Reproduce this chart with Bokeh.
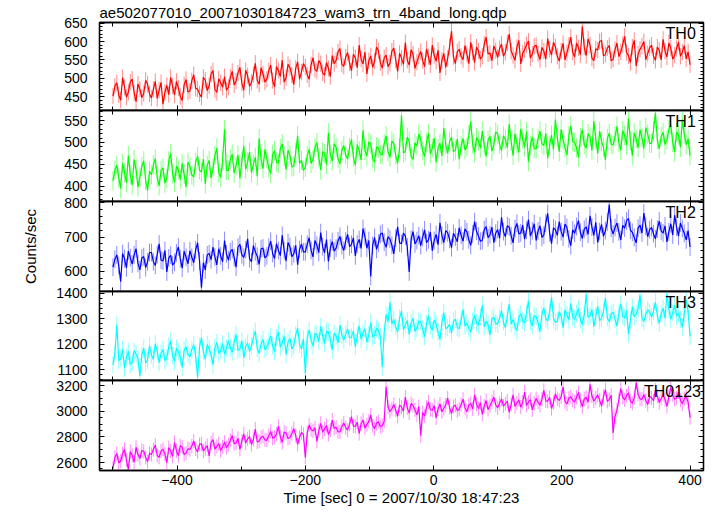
from bokeh.plotting import figure
from bokeh.layouts import column
from bokeh.models import Range1d, LinearAxis, SingleIntervalTicker, FixedTicker, Label
from bokeh.embed import file_html
from bokeh.resources import INLINE

TITLE = "ae502077010_20071030184723_wam3_trn_4band_long.qdp"
X_LABEL = "Time [sec] 0 = 2007/10/30 18:47:23"
Y_LABEL = "Counts/sec"

T_START = -500
T_STEP = 3
X_TICKS = [-400, -200, 0, 200, 400]
X_TICK_LABELS = ["\u2212400", "\u2212200", "0", "200", "400"]
X_MINOR = [-500, -300, -100, 100, 300]

BANDS = ["TH0", "TH1", "TH2", "TH3", "TH0123"]
COLORS = ["#ff0000", "#00ff00", "#0000ff", "#00ffff", "#ff00ff"]
Y_LIMITS = [(413, 651.5), (365, 573), (541, 804), (1057, 1406), (2538, 3239)]
Y_TICK_STEP = [50, 50, 100, 100, 200]
Y_MINOR_N = [5, 5, 5, 5, 4]
# typical error-bar half length per band (counts/sec), read from the halo
ERRORS = [22, 22, 26, 34, 55]

TH0 = [
    452, 479, 488, 455, 441, 502, 476, 449, 463, 490, 498, 461, 437, 485, 471, 448, 459, 495, 484, 458,
    447, 470, 492, 446, 468, 489, 430, 462, 481, 456, 503, 479, 455, 492, 474, 451, 440, 483, 497, 463,
    466, 494, 510, 473, 471, 458, 449, 503, 495, 467, 480, 512, 521, 470, 462, 499, 488, 476, 505, 468,
    476, 503, 519, 482, 493, 515, 530, 487, 468, 522, 507, 478, 489, 510, 541, 495, 484, 529, 512, 490,
    498, 521, 536, 494, 477, 532, 521, 505, 550, 490, 502, 538, 529, 509, 483, 527, 545, 498, 517, 540,
    531, 510, 498, 537, 556, 524, 519, 548, 540, 515, 509, 543, 527, 505, 562, 540, 549, 572, 581, 538,
    533, 558, 570, 541, 521, 565, 556, 529, 590, 552, 539, 571, 512, 548, 561, 530, 547, 585, 575, 542,
    528, 556, 563, 532, 541, 574, 582, 550, 519, 568, 555, 538, 597, 549, 536, 578, 566, 527, 544, 561,
    573, 548, 532, 580, 559, 537, 590, 562, 547, 576, 515, 549, 568, 530, 554, 586, 628, 559, 540, 572,
    579, 560, 551, 589, 566, 540, 598, 571, 543, 585, 574, 552, 560, 593, 612, 566, 569, 548, 588, 575,
    557, 581, 593, 560, 571, 596, 620, 574, 562, 549, 584, 603, 539, 568, 578, 591, 601, 555, 566, 587,
    590, 566, 551, 584, 574, 552, 608, 579, 563, 598, 586, 560, 547, 574, 595, 550, 569, 590, 612, 571,
    558, 596, 583, 564, 641, 585, 562, 607, 591, 555, 548, 580, 577, 600, 603, 561, 565, 582, 589, 548,
    552, 578, 596, 559, 572, 592, 614, 570, 561, 543, 585, 603, 534, 566, 579, 588, 600, 551, 567, 583,
    590, 561, 549, 585, 576, 550, 606, 574, 558, 596, 582, 552, 563, 581, 598, 560, 571, 589, 553, 572, 537]

TH1 = [
    412, 437, 448, 419, 395, 452, 431, 408, 470, 426, 403, 461, 439, 398, 421, 445, 458, 413, 390, 434,
    426, 449, 463, 420, 401, 436, 442, 407, 418, 458, 475, 429, 409, 446, 437, 415, 452, 427, 398, 455,
    445, 426, 421, 455, 468, 437, 432, 462, 405, 448, 459, 419, 441, 470, 487, 431, 420, 458, 530, 436,
    436, 462, 473, 430, 447, 471, 418, 457, 492, 439, 455, 478, 431, 450, 466, 423, 509, 461, 440, 484,
    462, 441, 429, 473, 481, 455, 452, 486, 497, 468, 438, 482, 470, 444, 446, 477, 515, 452, 459, 436,
    443, 470, 484, 452, 461, 488, 500, 466, 437, 479, 475, 449, 522, 473, 458, 497, 489, 463, 451, 482,
    493, 471, 462, 489, 507, 466, 448, 495, 481, 460, 528, 482, 469, 501, 497, 464, 455, 490, 486, 473,
    472, 497, 515, 478, 466, 503, 498, 470, 452, 488, 562, 476, 480, 512, 503, 468, 461, 499, 492, 519,
    506, 481, 468, 499, 521, 474, 487, 510, 455, 486, 498, 469, 533, 495, 475, 502, 512, 479, 482, 508,
    461, 492, 509, 483, 490, 518, 548, 496, 477, 511, 503, 487, 526, 493, 468, 505, 514, 480, 495, 524,
    519, 496, 481, 515, 507, 488, 542, 503, 470, 520, 498, 477, 531, 508, 489, 525, 456, 494, 512, 486,
    485, 509, 526, 497, 493, 521, 464, 492, 517, 484, 552, 512, 479, 530, 506, 488, 471, 515, 538, 502,
    500, 488, 466, 511, 529, 495, 487, 520, 513, 482, 549, 507, 475, 526, 503, 489, 460, 509, 521, 496,
    494, 513, 537, 499, 482, 527, 516, 493, 555, 504, 470, 522, 508, 488, 529, 511, 486, 534, 519, 498,
    498, 527, 568, 506, 485, 514, 523, 495, 506, 530, 541, 500, 478, 524, 517, 489, 552, 519, 495, 508, 470]

TH2 = [
    612, 635, 648, 617, 570, 652, 637, 610, 659, 640, 621, 648, 666, 623, 604, 639, 643, 611, 628, 655,
    655, 628, 617, 649, 680, 633, 630, 661, 598, 639, 647, 618, 626, 654, 671, 637, 609, 659, 641, 622,
    660, 641, 625, 663, 683, 630, 552, 625, 604, 648, 652, 634, 671, 642, 619, 666, 645, 628, 690, 651,
    633, 657, 664, 640, 612, 671, 679, 648, 641, 663, 695, 637, 628, 675, 657, 644, 620, 666, 668, 639,
    645, 670, 688, 652, 637, 681, 661, 646, 705, 660, 630, 684, 672, 643, 651, 676, 619, 664, 680, 657,
    657, 679, 698, 661, 642, 690, 676, 655, 713, 672, 654, 693, 629, 668, 687, 659, 668, 689, 702, 675,
    661, 689, 708, 672, 679, 698, 645, 680, 693, 667, 725, 701, 668, 690, 585, 676, 699, 664, 682, 708,
    712, 685, 670, 701, 694, 676, 651, 697, 730, 683, 681, 712, 703, 671, 598, 694, 716, 680, 690, 704,
    675, 699, 721, 684, 692, 715, 660, 690, 708, 678, 742, 705, 684, 719, 713, 693, 669, 711, 700, 686,
    727, 705, 688, 724, 715, 692, 676, 709, 745, 717, 703, 688, 690, 722, 731, 698, 707, 729, 684, 712,
    722, 697, 758, 716, 701, 733, 729, 704, 683, 725, 740, 709, 712, 735, 694, 720, 751, 703, 718, 739,
    690, 718, 733, 699, 706, 741, 769, 713, 681, 727, 722, 705, 745, 716, 700, 738, 728, 695, 675, 721,
    711, 731, 748, 714, 696, 723, 730, 708, 762, 729, 705, 743, 684, 716, 737, 702, 719, 744, 795, 726,
    709, 728, 741, 715, 692, 734, 726, 747, 755, 720, 714, 699, 683, 726, 735, 712, 770, 731, 701, 722,
    728, 710, 695, 723, 747, 718, 712, 733, 686, 715, 739, 706, 764, 729, 703, 741, 725, 711, 692, 719, 671]

TH3 = [
    1118, 1162, 1275, 1135, 1142, 1180, 1105, 1148, 1171, 1120, 1129, 1173, 1160, 1141, 1075, 1157, 1184, 1126, 1137, 1193,
    1158, 1140, 1201, 1172, 1127, 1165, 1179, 1135, 1146, 1190, 1213, 1155, 1132, 1184, 1170, 1149, 1108, 1176, 1189, 1160,
    1150, 1178, 1197, 1153, 1068, 1189, 1225, 1170, 1141, 1198, 1182, 1158, 1119, 1187, 1206, 1163, 1173, 1201, 1160, 1185,
    1213, 1186, 1168, 1207, 1237, 1175, 1181, 1213, 1145, 1190, 1204, 1171, 1192, 1226, 1250, 1184, 1163, 1201, 1218, 1178,
    1186, 1211, 1231, 1193, 1170, 1225, 1247, 1188, 1205, 1230, 1159, 1207, 1222, 1181, 1194, 1236, 1263, 1199, 1180, 1219,
    1085, 1226, 1254, 1215, 1192, 1241, 1238, 1209, 1268, 1232, 1203, 1250, 1245, 1219, 1177, 1243, 1231, 1205, 1274, 1236,
    1216, 1240, 1259, 1224, 1228, 1251, 1190, 1233, 1271, 1218, 1244, 1260, 1207, 1238, 1283, 1227, 1235, 1262, 1252, 1229,
    1110, 1245, 1315, 1288, 1365, 1279, 1296, 1268, 1247, 1301, 1330, 1256, 1275, 1292, 1238, 1283, 1301, 1249, 1262, 1290,
    1287, 1258, 1229, 1280, 1310, 1271, 1254, 1295, 1279, 1247, 1218, 1284, 1323, 1260, 1266, 1277, 1243, 1289, 1298, 1265,
    1260, 1295, 1336, 1270, 1281, 1262, 1247, 1290, 1312, 1283, 1274, 1306, 1352, 1268, 1289, 1275, 1236, 1298, 1305, 1281,
    1278, 1302, 1331, 1287, 1264, 1310, 1357, 1279, 1296, 1268, 1252, 1305, 1319, 1293, 1282, 1321, 1370, 1288, 1271, 1312,
    1308, 1281, 1249, 1317, 1342, 1299, 1291, 1325, 1383, 1302, 1285, 1289, 1327, 1311, 1263, 1334, 1316, 1294, 1360, 1307,
    1297, 1320, 1338, 1294, 1276, 1315, 1395, 1305, 1312, 1336, 1268, 1310, 1349, 1292, 1301, 1327, 1381, 1303, 1287, 1318,
    1325, 1298, 1270, 1322, 1358, 1310, 1303, 1331, 1240, 1294, 1346, 1307, 1318, 1340, 1392, 1300, 1289, 1316, 1335, 1326,
    1306, 1329, 1364, 1311, 1281, 1320, 1340, 1302, 1398, 1335, 1297, 1324, 1352, 1309, 1321, 1296, 1266, 1318, 1374, 1327, 1230]

TH0123 = [
    2555, 2640, 2671, 2598, 2612, 2667, 2703, 2620, 2545, 2685, 2655, 2603, 2719, 2662, 2631, 2694, 2688, 2640, 2607, 2672,
    2662, 2701, 2735, 2655, 2641, 2689, 2704, 2667, 2598, 2716, 2690, 2648, 2756, 2692, 2653, 2730, 2719, 2662, 2674, 2708,
    2701, 2729, 2768, 2707, 2683, 2741, 2745, 2690, 2710, 2732, 2652, 2755, 2779, 2704, 2726, 2748, 2694, 2722, 2758, 2716,
    2739, 2772, 2810, 2748, 2751, 2789, 2702, 2766, 2824, 2752, 2785, 2801, 2740, 2779, 2861, 2760, 2767, 2796, 2805, 2776,
    2773, 2809, 2842, 2790, 2798, 2821, 2881, 2802, 2756, 2838, 2829, 2787, 2795, 2826, 2864, 2810, 2741, 2797, 2834, 2819,
    2640, 2831, 2893, 2856, 2847, 2870, 2765, 2848, 2905, 2837, 2862, 2889, 2819, 2853, 2931, 2866, 2876, 2839, 2840, 2881,
    2908, 2872, 2853, 2899, 2957, 2884, 2881, 2915, 2826, 2904, 2932, 2868, 2895, 2921, 2970, 2887, 2864, 2906, 2918, 2879,
    2889, 2920, 3190, 3034, 2996, 3019, 3052, 3008, 2960, 3047, 3031, 2999, 3109, 3026, 2985, 3061, 3044, 3010, 2972, 3035,
    2810, 2990, 2963, 3030, 3071, 3012, 3007, 3043, 2948, 3018, 3056, 2995, 3023, 3049, 3102, 3027, 2981, 3036, 3047, 3004,
    3015, 3052, 3094, 3027, 2996, 3046, 3061, 3018, 3128, 3055, 3020, 3067, 2975, 3039, 3083, 3012, 3043, 3074, 3110, 3048,
    3026, 3061, 3095, 3040, 3058, 3079, 2991, 3053, 3127, 3036, 3064, 3088, 3031, 3070, 3149, 3045, 3072, 3091, 3010, 3062,
    3098, 3071, 3046, 3093, 3162, 3080, 3077, 3108, 3021, 3066, 3135, 3097, 3084, 3112, 3190, 3075, 3056, 3101, 3113, 3085,
    3071, 3109, 3146, 3082, 3035, 3095, 3108, 3071, 3210, 3118, 3079, 3101, 3127, 3086, 3040, 3113, 3168, 3077, 3092, 3124,
    2830, 2960, 3008, 3089, 3175, 3110, 3087, 3121, 3142, 3078, 3061, 3104, 3223, 3131, 3096, 3092, 3130, 3083, 3052, 3115,
    3104, 3081, 3165, 3117, 3068, 3098, 3129, 3090, 3037, 3112, 3186, 3127, 3092, 3103, 3150, 3085, 3058, 3096, 3114, 3071, 2950]

SERIES = [TH0, TH1, TH2, TH3, TH0123]

# layout / style constants
FONT = "Liberation Sans"
FRAME_W = 604
FRAME_H = [88, 91, 90, 89, 90]
X_RANGE = (-521, 421)
LABEL_X = [409, 409, 409, 409, 417]
OVERLAP = 10
GAP = 4


def style_axis(ax, major_in, minor_in, labels):
    ax.major_tick_in = major_in
    ax.major_tick_out = 0
    ax.minor_tick_in = minor_in
    ax.minor_tick_out = 0
    ax.axis_line_color = "black"
    ax.axis_line_width = 1.3
    ax.major_tick_line_color = "black"
    ax.minor_tick_line_color = "black"
    if labels:
        ax.major_label_text_font = FONT
        ax.major_label_text_font_size = "14px"
        ax.major_label_text_color = "black"
    else:
        ax.major_label_text_font_size = "0px"
        ax.major_label_text_alpha = 0
        ax.major_label_standoff = 0


def x_ticker():
    return FixedTicker(ticks=X_TICKS, minor_ticks=X_MINOR)


def y_ticker(i):
    return SingleIntervalTicker(interval=Y_TICK_STEP[i], num_minor_ticks=Y_MINOR_N[i])


figs = []
n = len(BANDS)
for i in range(n):
    first = i == 0
    last = i == n - 1
    p = figure(frame_width=FRAME_W, frame_height=FRAME_H[i],
               x_range=Range1d(*X_RANGE), y_range=Range1d(*Y_LIMITS[i]),
               x_axis_location=None, y_axis_location=None,
               output_backend="svg", toolbar_location=None,
               min_border_left=99, min_border_right=4,
               min_border_top=20 if first else OVERLAP,
               min_border_bottom=0 if last else GAP)
    p.grid.visible = False
    p.outline_line_color = "black"
    p.outline_line_width = 1.3
    p.background_fill_color = "white"
    if first:
        p.border_fill_color = "white"
        p.title.text = TITLE
        p.title.text_font = FONT
        p.title.text_font_size = "15px"
        p.title.text_font_style = "normal"
        p.title.text_color = "black"
        p.title.standoff = 3
        p.title.align = "left"
    else:
        p.border_fill_alpha = 0
        p.margin = (-(OVERLAP + GAP), 0, 0, 0)

    left = LinearAxis(ticker=y_ticker(i))
    style_axis(left, 5, 3, True)
    left.major_label_standoff = 12
    if i == 2:
        left.axis_label = Y_LABEL
        left.axis_label_text_font = FONT
        left.axis_label_text_font_size = "15px"
        left.axis_label_text_font_style = "normal"
        left.axis_label_text_color = "black"
        left.axis_label_standoff = 22
    p.add_layout(left, "left")

    right = LinearAxis(ticker=y_ticker(i))
    style_axis(right, 5, 3, False)
    p.add_layout(right, "right")

    top = LinearAxis(ticker=x_ticker())
    style_axis(top, 5, 4, False)
    p.add_layout(top, "above")

    bottom = LinearAxis(ticker=x_ticker())
    style_axis(bottom, 5, 4, last)
    if last:
        bottom.major_label_overrides = dict(zip(X_TICKS, X_TICK_LABELS))
        bottom.major_label_standoff = 4
        bottom.axis_label = X_LABEL
        bottom.axis_label_text_font = FONT
        bottom.axis_label_text_font_size = "15px"
        bottom.axis_label_text_font_style = "normal"
        bottom.axis_label_text_color = "black"
        bottom.axis_label_standoff = 1
    p.add_layout(bottom, "below")

    vals = SERIES[i]
    err = ERRORS[i]
    xs = [T_START + T_STEP * k for k in range(len(vals))]
    lo = [v - err for v in vals]
    hi = [v + err for v in vals]
    p.segment(x0=xs, y0=lo, x1=xs, y1=hi, line_color=COLORS[i], line_alpha=0.45, line_width=1)
    p.line(x=xs, y=vals, line_color=COLORS[i], line_width=1.2)

    p.add_layout(Label(x=LABEL_X[i], y=Y_LIMITS[i][1], text=BANDS[i],
                       text_align="right", text_baseline="top",
                       text_font=FONT, text_font_size="16px",
                       text_color="black", y_offset=-2))
    figs.append(p)

layout = column(*figs, spacing=0)

open("out.html", "w").write(file_html(layout, INLINE))
